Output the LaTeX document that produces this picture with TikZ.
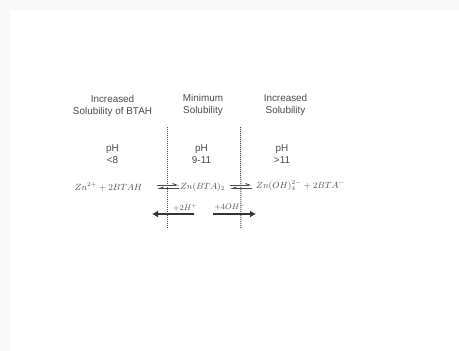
\documentclass[tikz,border=0pt]{standalone}
\usepackage{amsmath}
\usepackage{fontspec}
\setmainfont{Liberation Sans}
\usepackage{tikz}
\usetikzlibrary{positioning,arrows.meta}
\definecolor{inkgray}{HTML}{4A4A4A}
\definecolor{mathgray}{HTML}{4F4F4F}
\definecolor{edgegray}{HTML}{F8F8F8}

\begin{document}
\begin{tikzpicture}[
    x=1pt,y=-1pt,
    head/.style={font=\fontsize{9.9}{12}\selectfont,text=inkgray,align=center,inner sep=0pt},
    chem/.style={font=\fontsize{8.9}{10}\selectfont,text=mathgray,inner sep=0pt},
    small/.style={font=\fontsize{7.6}{9}\selectfont,text=mathgray,inner sep=0pt},
    divider/.style={dash pattern=on 1.2pt off 0.8pt,line width=1pt,draw=inkgray},
    arr/.style={-{Latex[length=6pt,width=7pt]},line width=1.1pt,draw=black!80},
    eqtop/.style={-{Straight Barb[harpoon,length=4pt,width=3pt]},line width=0.9pt,draw=inkgray},
    eqbot/.style={-{Straight Barb[harpoon,swap,length=4pt,width=3pt]},line width=0.9pt,draw=inkgray}
  ]
    \useasboundingbox (0,0) rectangle (459,351);
    \fill[edgegray] (0,0) rectangle (459,351);
    \fill[white] (10,10) rectangle (459,351);

    \node[head] (lowhead) at (112.5,106) {Increased\\Solubility of BTAH};
    \node[head] (midhead) at (203,105) {Minimum\\Solubility};
    \node[head] (highhead) at (285.5,105) {Increased\\Solubility};

    \node[head] (lowph) at (112.5,154) {pH\\<8};
    \node[head] (midph) at (201.5,154.5) {pH\\9-11};
    \node[head] (highph) at (282,154) {pH\\>11};

    \node[chem] (lowchem) at (108.5,187) {$Zn^{2+}+2BTAH$};
    \node[chem] (midchem) at (202.5,187) {$Zn(BTA)_2$};
    \node[chem] (highchem) at (300.5,185.5) {$Zn(OH)_4^{2-}+2BTA^{-}$};

    \node[small] (acid) at (185,208) {$+2H^{+}$};
    \node[small,font=\fontsize{8.2}{10}\selectfont] (base) at (230,207) {$+4OH^{-}$};

    \coordinate (leftup) at (167.5,127);
    \coordinate (leftdown) at (167.5,229);
    \coordinate (rightup) at (240.5,127);
    \coordinate (rightdown) at (241,229);
    \draw[divider] (leftup) -- (leftdown);
    \draw[divider] (rightup) -- (rightdown);

    \coordinate (eqa) at (157,185);
    \coordinate (eqb) at (179,185);
    \coordinate (eqc) at (157,188.5);
    \coordinate (eqd) at (179,188.5);
    \coordinate (eqe) at (230,185);
    \coordinate (eqf) at (252,185);
    \coordinate (eqg) at (230,188.5);
    \coordinate (eqh) at (252,188.5);
    \draw[eqtop] (eqa) -- (eqb);
    \draw[eqbot] (eqd) -- (eqc);
    \draw[eqtop] (eqe) -- (eqf);
    \draw[eqbot] (eqh) -- (eqg);

    \coordinate (acidstart) at (194,214);
    \coordinate (acidend) at (152,214);
    \coordinate (basestart) at (213,214);
    \coordinate (baseend) at (256,214);
    \draw[arr] (acidstart) -- (acidend);
    \draw[arr] (basestart) -- (baseend);
  \end{tikzpicture}
\end{document}
